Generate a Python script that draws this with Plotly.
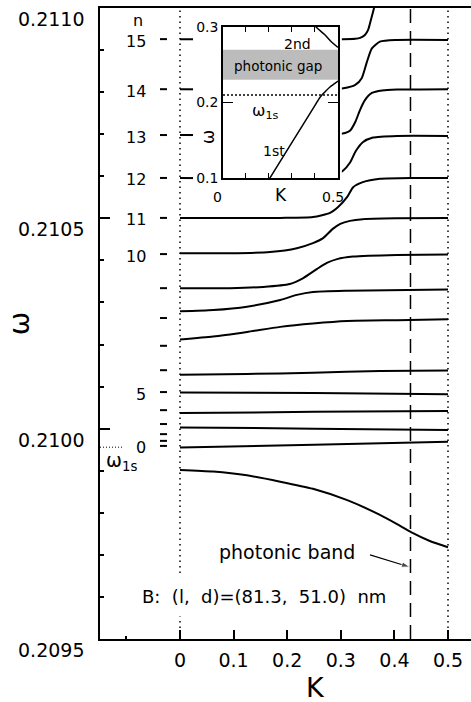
import plotly.graph_objects as go

FONT = "DejaVu Sans"

# ---------------- data ----------------
# main-panel axes
K_TICKS = [0, 0.1, 0.2, 0.3, 0.4, 0.5]
K_TICK_TEXT = ["0", "0.1", "0.2", "0.3", "0.4", "0.5"]
K_MINOR_TICKS = [-0.1]
W_TICKS = [0.2095, 0.2100, 0.2105, 0.2110]
W_TICK_TEXT = ["0.2095", "0.2100", "0.2105", "0.2110"]
K_RANGE = [-0.14925, 0.54291]
W_RANGE = [0.2095, 0.2110]

# bare exciton levels n = 0..15 (short dashes at the left)
N_LEVEL_W = [0.209959, 0.209971, 0.209987, 0.210011, 0.210044, 0.210087,
             0.210139, 0.210197, 0.210263, 0.210334, 0.210415, 0.210501,
             0.210596, 0.210698, 0.210807, 0.210926]
N_LABELED = [0, 5, 10, 11, 12, 13, 14, 15]

OMEGA_1S = 0.209956
K_MARK = 0.430          # dashed vertical line

# polariton branches (lowest = photonic band)
K_c1 = [0, 0.062, 0.125, 0.187, 0.248, 0.312, 0.373, 0.405, 0.431, 0.466, 0.5]
W_c1 = [0.209902, 0.209898, 0.209889, 0.209874, 0.209857, 0.209830, 0.209795,
        0.209773, 0.209754, 0.209733, 0.209718]
K_c2 = [0, 0.25, 0.5]
W_c2 = [0.209955, 0.209962, 0.209969]
K_c3 = [0, 0.25, 0.5]
W_c3 = [0.210003, 0.210000, 0.209997]
K_c4 = [0, 0.25, 0.5]
W_c4 = [0.210037, 0.210040, 0.210042]
K_c5 = [0, 0.25, 0.5]
W_c5 = [0.210086, 0.210085, 0.210082]
K_c6 = [0, 0.125, 0.248, 0.373, 0.5]
W_c6 = [0.210128, 0.210130, 0.210133, 0.210137, 0.210138]
K_c7 = [0, 0.062, 0.125, 0.187, 0.248, 0.312, 0.405, 0.5]
W_c7 = [0.210212, 0.210219, 0.210230, 0.210242, 0.210250, 0.210256, 0.210258, 0.210260]
K_c8 = [0, 0.062, 0.125, 0.187, 0.218, 0.248, 0.312, 0.5]
W_c8 = [0.210279, 0.210282, 0.210290, 0.210306, 0.210318, 0.210325, 0.210328, 0.210331]
K_c9 = [0, 0.093, 0.155, 0.205, 0.230, 0.256, 0.274, 0.293, 0.323, 0.405, 0.5]
W_c9 = [0.210334, 0.210334, 0.210337, 0.210344, 0.210358, 0.210380, 0.210394,
        0.210403, 0.210409, 0.210413, 0.210414]
K_c10 = [0, 0.093, 0.168, 0.218, 0.248, 0.267, 0.285, 0.299, 0.317, 0.341, 0.405, 0.5]
W_c10 = [0.210417, 0.210417, 0.210420, 0.210429, 0.210441, 0.210453, 0.210475,
         0.210487, 0.210494, 0.210498, 0.210500, 0.210501]
K_c11 = [0, 0.187, 0.248, 0.280, 0.295, 0.312, 0.323, 0.341, 0.373, 0.435, 0.5]
W_c11 = [0.210501, 0.210501, 0.210503, 0.210513, 0.210527, 0.210551, 0.210574,
         0.210586, 0.210594, 0.210596, 0.210596]
K_c12 = [0, 0.25, 0.29, 0.304, 0.317, 0.328, 0.341, 0.360, 0.405, 0.5]
W_c12 = [0.210596, 0.210597, 0.210603, 0.210613, 0.210632, 0.210660, 0.210681,
         0.210692, 0.210696, 0.210696]
K_c13 = [0, 0.28, 0.308, 0.317, 0.327, 0.336, 0.345, 0.358, 0.377, 0.405, 0.5]
W_c13 = [0.210698, 0.210699, 0.210703, 0.210708, 0.210729, 0.210758, 0.210781,
         0.210798, 0.210804, 0.210806, 0.210807]
K_c14 = [0, 0.28, 0.305, 0.327, 0.339, 0.348, 0.358, 0.373, 0.404, 0.5]
W_c14 = [0.210807, 0.210807, 0.210809, 0.210817, 0.210833, 0.210869, 0.210904,
         0.210920, 0.210924, 0.210924]
K_c15 = [0, 0.28, 0.304, 0.327, 0.336, 0.345, 0.351, 0.356, 0.362, 0.366]
W_c15 = [0.210926, 0.210926, 0.210926, 0.210927, 0.210929, 0.210936, 0.210948,
         0.210971, 0.211000, 0.211026]

# pointer from the "photonic band" label to the dashed line
ARROW_K = [0.3545, 0.4291]
ARROW_W = [0.209700, 0.209671]

# region of the main panel hidden behind the inset
MASK_K = [0.0243, 0.302]
MASK_W = [0.210567, 0.210990]

# inset: photonic bands of the bare photonic crystal
INSET_K_RANGE = [0, 0.5]
INSET_W_RANGE = [0.1, 0.3]
INSET_W_TICKS = [0.1, 0.2, 0.3]
INSET_W_TICK_TEXT = ["0.1", "0.2", "0.3"]
GAP_W = [0.23, 0.27]
INSET_OMEGA_1S = 0.21
K_band1 = [0.19, 0.30, 0.40, 0.422, 0.445, 0.465, 0.485, 0.5]
W_band1 = [0.0931, 0.1471, 0.1962, 0.2070, 0.2145, 0.2205, 0.2250, 0.2285]
K_band2 = [0.39, 0.407, 0.444, 0.472, 0.5]
W_band2 = [0.3050, 0.2993, 0.2894, 0.2801, 0.2730]

# ---------------- figure ----------------
fig = go.Figure()

branches = [(K_c1, W_c1), (K_c2, W_c2), (K_c3, W_c3), (K_c4, W_c4), (K_c5, W_c5),
            (K_c6, W_c6), (K_c7, W_c7), (K_c8, W_c8), (K_c9, W_c9), (K_c10, W_c10),
            (K_c11, W_c11), (K_c12, W_c12), (K_c13, W_c13), (K_c14, W_c14),
            (K_c15, W_c15)]
for kk, ww in branches:
    fig.add_trace(go.Scatter(
        x=kk, y=ww, mode="lines",
        line=dict(color="black", width=2, shape="spline", smoothing=0.6),
        hoverinfo="skip", showlegend=False))

# level dashes
fig.add_trace(go.Scatter(
    x=[-0.0308] * len(N_LEVEL_W), y=N_LEVEL_W, mode="markers",
    marker=dict(symbol="line-ew", size=5, line=dict(width=2, color="black")),
    hoverinfo="skip", showlegend=False))

# omega_1s reference mark on the axis
fig.add_trace(go.Scatter(
    x=[K_RANGE[0], -0.106], y=[OMEGA_1S, OMEGA_1S], mode="lines",
    line=dict(color="black", width=1, dash="1px,2px"),
    hoverinfo="skip", showlegend=False))

# arrow
fig.add_trace(go.Scatter(
    x=ARROW_K, y=ARROW_W, mode="lines+markers",
    line=dict(color="black", width=1.2),
    marker=dict(symbol="arrow", size=[0, 9], angleref="previous", color="black"),
    hoverinfo="skip", showlegend=False))

# white mask behind the inset
fig.add_trace(go.Scatter(
    x=[MASK_K[0], MASK_K[1], MASK_K[1], MASK_K[0], MASK_K[0]],
    y=[MASK_W[0], MASK_W[0], MASK_W[1], MASK_W[1], MASK_W[0]],
    mode="lines", fill="toself", fillcolor="white", line=dict(width=0),
    hoverinfo="skip", showlegend=False))

# ---- inset traces ----
fig.add_trace(go.Scatter(
    x=[INSET_K_RANGE[0], INSET_K_RANGE[1], INSET_K_RANGE[1], INSET_K_RANGE[0], INSET_K_RANGE[0]],
    y=[GAP_W[0], GAP_W[0], GAP_W[1], GAP_W[1], GAP_W[0]],
    mode="lines", fill="toself", fillcolor="#bcbcbc", line=dict(width=0),
    xaxis="x2", yaxis="y2", hoverinfo="skip", showlegend=False))
fig.add_trace(go.Scatter(
    x=INSET_K_RANGE, y=[INSET_OMEGA_1S, INSET_OMEGA_1S], mode="lines",
    line=dict(color="black", width=1.5, dash="2px,2px"),
    xaxis="x2", yaxis="y2", hoverinfo="skip", showlegend=False))
for kk, ww in [(K_band1, W_band1), (K_band2, W_band2)]:
    fig.add_trace(go.Scatter(
        x=kk, y=ww, mode="lines",
        line=dict(color="black", width=1.5, shape="spline", smoothing=0.6),
        xaxis="x2", yaxis="y2", hoverinfo="skip", showlegend=False))

# ---- vertical reference lines ----
shapes = [
    dict(type="line", xref="x", yref="paper", x0=0, x1=0, y0=0, y1=1,
         line=dict(color="black", width=1.5, dash="1.5px,4px")),
    dict(type="line", xref="x", yref="paper", x0=0.5, x1=0.5, y0=0, y1=1,
         line=dict(color="black", width=1.5, dash="1.5px,4px")),
    dict(type="line", xref="x", yref="paper", x0=K_MARK, x1=K_MARK, y0=0, y1=1,
         line=dict(color="black", width=1.5, dash="14px,8px")),
]

# ---- annotations ----
def txt(text, size, **kw):
    d = dict(text=text, showarrow=False, xanchor="center", yanchor="middle",
             font=dict(size=size, family=FONT, color="black"))
    d.update(kw)
    return d

ann = []
for v, t in zip(W_TICKS, W_TICK_TEXT):
    ann.append(txt(t, 19, xref="paper", x=-0.0377, xanchor="right",
                   yref="y", y=v, yshift=-11))
for n in N_LABELED:
    ann.append(txt(str(n), 16, xref="x", x=-0.0597, xanchor="right",
                   yref="y", y=N_LEVEL_W[n], yshift=-2))
ann.append(txt("n", 16, xref="x", x=-0.078, yref="y", y=0.210971))
ann.append(txt("ω<sub>1s</sub>", 19, xref="x", x=-0.141, xanchor="left",
               yref="y", y=OMEGA_1S, yshift=-14))
ann.append(txt("K", 27, xref="paper", x=0.5822, yref="paper", y=-0.0761))
ann.append(txt("photonic band", 19, xref="x", x=0.1996, yref="y", y=0.209707))
ann.append(txt("B:\u00a0 (l,\u00a0 d)=(81.3,\u00a0 51.0)\u00a0 nm", 18,
               xref="x", x=-0.0896, xanchor="left", yref="y", y=0.209600,
               bgcolor="white", borderpad=9))
# inset texts
ann.append(txt("2nd", 14, xref="x2", x=0.326, yref="y2", y=0.278))
ann.append(txt("photonic gap", 13.5, xref="x2", x=0.241, yref="y2", y=0.2483))
ann.append(txt("ω<sub>1s</sub>", 16, xref="x2", x=0.117, xanchor="left",
               yref="y2", y=0.188))
ann.append(txt("1st", 14, xref="x2", x=0.22, yref="y2", y=0.136))
ann.append(txt("ω", 17, xref="paper", x=0.2911, yref="paper", y=0.7956,
               textangle=-90))
for xv, t in [(0, "0"), (0.5, "0.5")]:
    ann.append(txt(t, 14, xref="x2", x=xv, xshift=-5, yref="paper", y=0.7005))

fig.update_layout(
    width=471, height=702,
    margin=dict(l=100, r=0, t=8, b=63),
    paper_bgcolor="white", plot_bgcolor="white",
    showlegend=False,
    font=dict(family=FONT, color="black"),
    shapes=shapes, annotations=ann,
    xaxis=dict(
        range=K_RANGE, tickmode="array", tickvals=K_TICKS, ticktext=K_TICK_TEXT,
        ticks="inside", ticklen=9, tickwidth=1.5, tickcolor="black",
        showline=True, linewidth=2, linecolor="black", mirror=True,
        showgrid=False, zeroline=False, automargin=False,
        tickfont=dict(size=19, family=FONT, color="black"),
        ticklabelstandoff=3,
        minor=dict(tickmode="array", tickvals=K_MINOR_TICKS, ticks="inside",
                   ticklen=3, tickwidth=1.5, tickcolor="black"),
    ),
    yaxis=dict(
        range=W_RANGE, tick0=0.2095, dtick=0.0005,
        ticks="inside", ticklen=10, tickwidth=2, tickcolor="black",
        showticklabels=False,
        showline=True, linewidth=2, linecolor="black", mirror=False,
        showgrid=False, zeroline=False, automargin=False,
        title=dict(text="ω", standoff=60,
                   font=dict(size=28, family=FONT, color="black")),
        minor=dict(dtick=0.0001, tick0=0.2095, ticks="inside", ticklen=4,
                   tickwidth=1.5, tickcolor="black"),
    ),
    xaxis2=dict(
        domain=[0.3315, 0.6415], range=INSET_K_RANGE, anchor="y2",
        dtick=0.1, tick0=0, ticks="inside", ticklen=5, tickwidth=1.2,
        tickcolor="black", showticklabels=False,
        showline=True, linewidth=1.5, linecolor="black", mirror="ticks",
        showgrid=False, zeroline=False, automargin=False,
        title=dict(text="K", standoff=10,
                   font=dict(size=17, family=FONT, color="black")),
    ),
    yaxis2=dict(
        domain=[0.7306, 0.9699], range=INSET_W_RANGE, anchor="x2",
        tickmode="array", tickvals=INSET_W_TICKS, ticktext=INSET_W_TICK_TEXT,
        ticks="inside", ticklen=10, tickwidth=1.2, tickcolor="black",
        showline=True, linewidth=1.5, linecolor="black", mirror="ticks",
        showgrid=False, zeroline=False, automargin=False,
        tickfont=dict(size=14, family=FONT, color="black"),
        ticklabelstandoff=0,
    ),
)

fig.write_html("out.html")
